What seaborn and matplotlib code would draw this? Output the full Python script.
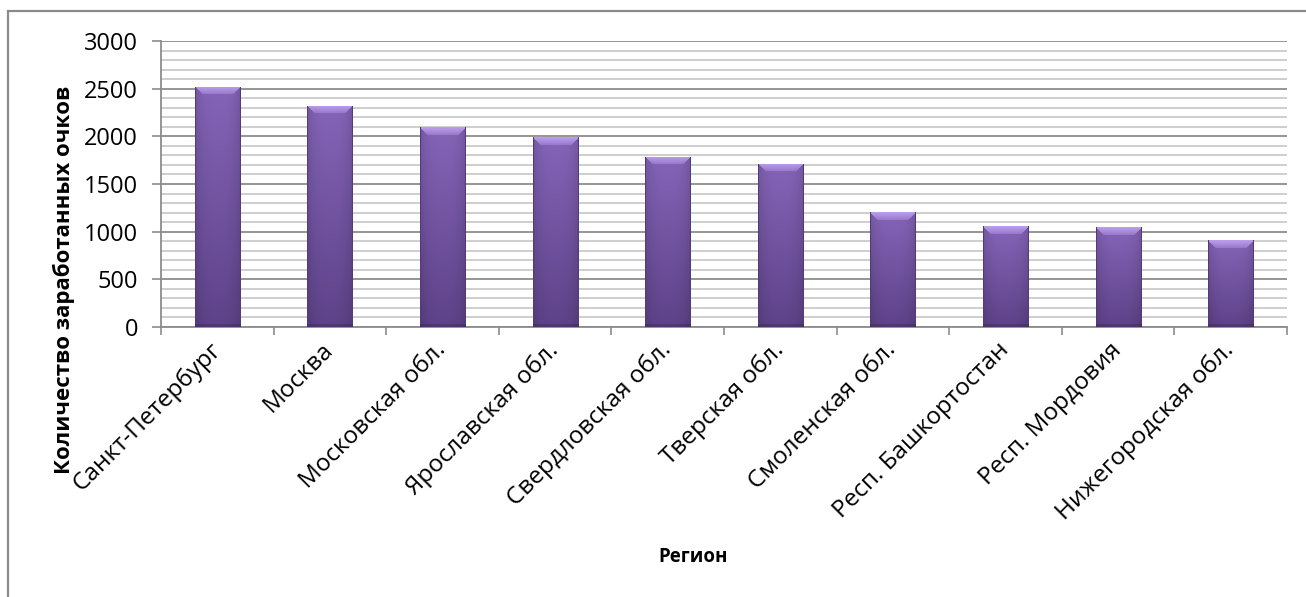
import numpy as np
import pandas as pd
import matplotlib
matplotlib.use("Agg")
import matplotlib.pyplot as plt
import seaborn as sns
from matplotlib.ticker import MultipleLocator, FixedLocator
from matplotlib.patches import Rectangle

# ---- data ----
regions = ["Санкт-Петербург", "Москва", "Московская обл.", "Ярославская обл.",
           "Свердловская обл.", "Тверская обл.", "Смоленская обл.",
           "Респ. Башкортостан", "Респ. Мордовия", "Нижегородская обл."]
points = [2520, 2320, 2095, 1990, 1785, 1715, 1205, 1055, 1045, 910]
y_ticks = [0, 500, 1000, 1500, 2000, 2500, 3000]
x_title = "Регион"
y_title = "Количество заработанных очков"

sns.set_theme(style="white")
plt.rcParams["font.family"] = ["Open Sans", "DejaVu Sans"]

W, H = 1306, 597
fig = plt.figure(figsize=(W / 100, H / 100), dpi=100)
ax = fig.add_axes([161 / W, 1 - 327 / H, (1287 - 161) / W, (327 - 41) / H])

df = pd.DataFrame({x_title: regions, "points": points})
sns.barplot(data=df, x=x_title, y="points", color="#7a5aab", width=0.4,
            saturation=1, ax=ax, zorder=3, linewidth=0)

ax.set_ylim(0, 3000)
ax.set_xlim(-0.5, len(regions) - 0.5)
ax.set_yticks(y_ticks)
ax.set_yticklabels([str(v) for v in y_ticks])
ax.yaxis.set_minor_locator(MultipleLocator(100))
ax.grid(False)
ax.grid(which="major", axis="y", color="#8c8c8c", lw=1.3, zorder=0)
ax.grid(which="minor", axis="y", color="#cacaca", lw=1.3, zorder=0)
ax.set_axisbelow(True)

# category boundary ticks
ax.xaxis.set_minor_locator(FixedLocator(np.arange(-0.5, len(regions), 1.0)))
ax.tick_params(axis="x", which="major", length=0, pad=14, labelsize=17.5,
               labelcolor="black")
ax.tick_params(axis="x", which="minor", bottom=True, length=6, width=1.2,
               color="#8c8c8c")
ax.tick_params(axis="y", which="major", left=True, length=6.5, width=1.2,
               color="#8c8c8c", pad=10, labelsize=17, labelcolor="black")
ax.tick_params(axis="y", which="minor", length=0)
for lab in ax.get_xticklabels():
    lab.set_rotation(45)
    lab.set_ha("right")
    lab.set_va("center")
    lab.set_rotation_mode("anchor")

for s in ["top", "right"]:
    ax.spines[s].set_visible(False)
for s in ["left", "bottom"]:
    ax.spines[s].set_color("#8c8c8c")
    ax.spines[s].set_linewidth(1.3)

ax.set_ylabel(y_title, fontsize=16, fontweight="bold", color="black")
ax.yaxis.set_label_coords(-0.076, 0.164)
ax.set_xlabel(x_title, fontsize=13.5, fontweight="bold", color="black")
ax.xaxis.set_label_coords(0.4725, -0.77)

# gradient shading for bars
fig.canvas.draw()
base_top = np.array([132, 100, 184]) / 255
base_bot = np.array([94, 66, 136]) / 255
bevel = np.array([186, 158, 236]) / 255
edge = np.array([84, 58, 120]) / 255
for p in list(ax.patches):
    bb = p.get_window_extent()
    wp, hp = max(int(round(bb.width)), 2), max(int(round(bb.height)), 2)
    t = np.linspace(0, 1, hp)[:, None, None]
    img = base_top * (1 - t) + base_bot * t
    img = np.repeat(img, wp, axis=1)
    xs = np.linspace(-1, 1, wp)
    shade = 1 - 0.12 * np.abs(xs) ** 3
    img = img * shade[None, :, None]
    bh = 8
    for r in range(min(bh, hp)):
        c0, c1 = r, wp - r
        frac = 0.35 + 0.65 * (1 - r / bh)
        img[r, c0:c1] = bevel * frac + img[r, c0:c1] * (1 - frac)
    img[:, :1] = edge
    img[:, -1:] = edge
    img[-3:, :] = img[-3:, :] * 0.85
    d = p.get_bbox()
    im = ax.imshow(np.clip(img, 0, 1), extent=[d.x0, d.x1, d.y0, d.y1],
                   aspect="auto", origin="upper", zorder=4, interpolation="bilinear")
    im.set_clip_path(p)
ax.set_ylim(0, 3000)
ax.set_xlim(-0.5, len(regions) - 0.5)

fig.patches.append(Rectangle((8 / W, -0.5), 2, 1 - 11 / H + 0.5,
                             transform=fig.transFigure, fill=False,
                             ec="#8a8a8a", lw=1.6))

fig.savefig("out.png", dpi=100)
